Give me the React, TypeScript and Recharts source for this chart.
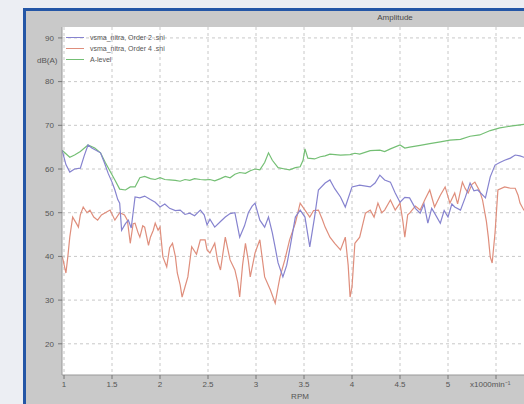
import React from 'react';
import { LineChart, Line, XAxis, YAxis, CartesianGrid, Legend } from 'recharts';

// RPM (x1000 min^-1) and level (dB(A))
const greenRpm = [0.98, 1.02, 1.06, 1.11, 1.17, 1.25, 1.32, 1.38, 1.43, 1.48, 1.53, 1.58, 1.64, 1.69, 1.74, 1.79, 1.84, 1.9, 1.95, 2.0, 2.05, 2.1, 2.16, 2.21, 2.26, 2.31, 2.36, 2.42, 2.47, 2.52, 2.57, 2.63, 2.68, 2.73, 2.78, 2.83, 2.89, 2.94, 2.99, 3.04, 3.09, 3.13, 3.17, 3.23, 3.3, 3.35, 3.41, 3.46, 3.49, 3.51, 3.54, 3.61, 3.67, 3.72, 3.77, 3.88, 3.98, 4.03, 4.08, 4.19, 4.29, 4.34, 4.4, 4.5, 4.55, 4.6, 4.71, 4.81, 4.92, 5.02, 5.13, 5.23, 5.33, 5.44, 5.54, 5.65, 5.79, 5.85];
const greenDb = [64.3, 63.5, 62.7, 63.2, 64.0, 65.5, 64.8, 63.7, 61.5, 59.5, 57.5, 55.4, 55.2, 55.9, 55.9, 58.0, 58.3, 57.8, 57.6, 58.0, 57.6, 57.5, 57.4, 57.2, 57.6, 57.4, 57.8, 57.6, 57.5, 57.6, 57.3, 57.8, 58.3, 58.0, 58.8, 59.2, 59.0, 59.6, 60.0, 59.8, 61.5, 63.7, 62.0, 60.3, 60.0, 59.8, 60.3, 60.5, 62.0, 64.6, 62.5, 62.3, 62.8, 63.0, 63.4, 63.2, 63.3, 63.6, 63.4, 64.2, 64.3, 64.0, 64.6, 65.5, 64.8, 65.0, 65.4, 65.8, 66.2, 66.6, 66.8, 67.5, 67.8, 68.8, 69.4, 69.8, 70.2, 70.4];

const blueRpm = [0.98, 1.02, 1.06, 1.11, 1.17, 1.21, 1.25, 1.29, 1.38, 1.42, 1.46, 1.5, 1.53, 1.56, 1.58, 1.6, 1.64, 1.67, 1.7, 1.74, 1.79, 1.84, 1.9, 1.95, 2.0, 2.05, 2.1, 2.16, 2.21, 2.26, 2.31, 2.36, 2.42, 2.46, 2.49, 2.52, 2.57, 2.63, 2.68, 2.73, 2.78, 2.83, 2.88, 2.92, 2.96, 2.99, 3.04, 3.09, 3.13, 3.17, 3.2, 3.23, 3.28, 3.32, 3.35, 3.41, 3.46, 3.51, 3.56, 3.61, 3.65, 3.72, 3.77, 3.82, 3.88, 3.93, 4.0, 4.08, 4.19, 4.24, 4.29, 4.34, 4.4, 4.45, 4.5, 4.55, 4.6, 4.66, 4.71, 4.75, 4.79, 4.83, 4.86, 4.92, 4.96, 5.0, 5.04, 5.07, 5.13, 5.18, 5.23, 5.27, 5.31, 5.39, 5.44, 5.49, 5.54, 5.59, 5.65, 5.7, 5.75, 5.79, 5.85];
const blueDb = [64.3, 61.0, 59.3, 60.0, 60.2, 63.0, 65.5, 64.8, 63.7, 61.5, 59.0, 57.0, 55.2, 53.0, 52.2, 46.0, 47.5, 48.3, 46.5, 53.6, 53.4, 53.8, 53.0, 52.4, 51.3, 52.0, 51.0, 50.5, 50.6, 49.6, 49.9, 49.3, 50.6, 49.5, 47.2, 48.5, 46.7, 48.0, 49.0, 49.8, 50.0, 44.4, 47.0, 50.0, 51.5, 52.2, 48.3, 46.7, 49.0, 45.4, 42.0, 38.5, 35.3, 38.0, 41.5, 49.0, 50.6, 49.0, 42.2, 49.0, 55.2, 56.8, 57.5, 55.5, 53.6, 51.3, 55.9, 56.3, 55.9, 56.8, 58.6, 57.5, 57.0, 54.5, 52.4, 53.5, 53.4, 51.0, 49.9, 52.0, 47.6, 51.0, 49.9, 47.6, 50.5, 49.0, 52.0, 51.3, 50.6, 53.5, 56.8, 55.0, 55.2, 53.4, 58.2, 60.9, 61.5, 62.0, 62.5, 63.2, 63.0, 62.7, 62.5];

const redRpm = [0.98, 0.99, 1.02, 1.04, 1.06, 1.09, 1.13, 1.15, 1.17, 1.2, 1.24, 1.27, 1.31, 1.35, 1.39, 1.43, 1.48, 1.53, 1.58, 1.63, 1.66, 1.69, 1.72, 1.74, 1.77, 1.79, 1.82, 1.84, 1.88, 1.9, 1.93, 1.95, 1.98, 2.0, 2.03, 2.07, 2.1, 2.13, 2.16, 2.18, 2.21, 2.23, 2.26, 2.29, 2.33, 2.38, 2.42, 2.47, 2.49, 2.52, 2.57, 2.6, 2.63, 2.68, 2.73, 2.78, 2.81, 2.83, 2.86, 2.89, 2.92, 2.94, 2.99, 3.04, 3.09, 3.15, 3.2, 3.23, 3.25, 3.3, 3.35, 3.41, 3.46, 3.51, 3.56, 3.6, 3.65, 3.69, 3.72, 3.77, 3.82, 3.88, 3.93, 3.96, 3.98, 4.0, 4.03, 4.08, 4.14, 4.19, 4.23, 4.27, 4.31, 4.34, 4.4, 4.45, 4.5, 4.53, 4.55, 4.58, 4.6, 4.66, 4.71, 4.76, 4.81, 4.86, 4.92, 4.97, 5.02, 5.07, 5.1, 5.15, 5.18, 5.21, 5.25, 5.28, 5.33, 5.36, 5.4, 5.42, 5.44, 5.46, 5.49, 5.52, 5.59, 5.65, 5.7, 5.73, 5.75, 5.79, 5.85];
const redDb = [40.0, 39.2, 36.2, 40.0, 44.4, 49.0, 47.5, 46.7, 49.5, 51.3, 50.0, 50.6, 49.0, 48.3, 49.5, 50.0, 50.6, 48.3, 50.0, 49.5, 48.3, 43.0, 47.5, 47.6, 45.5, 44.4, 47.0, 46.7, 42.5, 44.4, 46.0, 47.6, 46.0, 46.7, 39.9, 37.6, 42.0, 43.0, 40.0, 36.2, 33.5, 30.7, 33.0, 35.3, 42.2, 40.5, 43.8, 43.8, 41.5, 40.8, 43.0, 39.0, 36.9, 44.4, 39.2, 36.9, 34.0, 30.7, 38.0, 43.0, 39.0, 35.3, 40.8, 43.8, 35.3, 32.3, 29.3, 33.0, 35.3, 39.2, 43.8, 47.6, 52.2, 50.6, 49.0, 50.5, 50.6, 48.5, 46.7, 44.4, 43.0, 41.5, 44.4, 38.0, 30.7, 33.0, 43.0, 44.4, 49.9, 50.6, 49.0, 52.2, 50.0, 50.6, 52.9, 50.6, 52.2, 48.0, 44.4, 49.5, 49.9, 51.5, 50.6, 53.0, 55.2, 51.3, 54.0, 55.9, 52.2, 54.5, 52.0, 57.0, 55.5, 54.5, 56.5, 57.0, 55.0, 52.9, 48.0, 44.4, 39.9, 38.5, 45.4, 55.2, 55.9, 55.6, 55.6, 54.0, 52.2, 50.6, 50.0];

const seriesNames = ['vsma_nitra, Order 2 .sni', 'vsma_nitra, Order 4 .sni', 'A-level'];
const seriesColors = ['#8683cf', '#df8e7c', '#74bf74'];

const xTicks = [1, 1.5, 2, 2.5, 3, 3.5, 4, 4.5, 5, 5.5];
const xLabels = ['1', '1.5', '2', '2.5', '3', '3.5', '4', '4.5', '5', 'x1000min⁻¹'];
const yTicks = [20, 30, 40, 50, 60, 70, 80, 90];

const xMinor = Array.from({ length: 100 }, (_, i) => +(1 + i * 0.05).toFixed(2));
const yMinor = Array.from({ length: 80 }, (_, i) => 13 + i);

const toRows = (rpm: number[], db: number[]) => rpm.map((r, i) => ({ rpm: r, db: db[i] }));
const blueData = toRows(blueRpm, blueDb);
const redData = toRows(redRpm, redDb);
const greenData = toRows(greenRpm, greenDb);

const FONT = '"Liberation Sans", Arial, sans-serif';

const XTick = (props: any) => {
  const { x, y, payload } = props;
  const idx = xTicks.indexOf(payload.value);
  const last = idx === xTicks.length - 1;
  return (
    <text x={last ? x - 26 : x} y={y} dy="0.71em" textAnchor={last ? 'start' : 'middle'}
      fontSize={8} fill="#555" fontFamily={FONT}>
      {xLabels[idx]}
    </text>
  );
};

const NoLabel = () => <g />;

const LegendBox = () => (
  <div style={{ fontFamily: FONT, fontSize: 7, color: '#555', lineHeight: '11px' }}>
    {seriesNames.map((n, i) => (
      <div key={n} style={{ display: 'flex', alignItems: 'center' }}>
        <span style={{ display: 'inline-block', width: 18, height: 1, background: seriesColors[i], marginRight: 6 }} />
        {n}
      </div>
    ))}
  </div>
);

export default function App() {
  return (
    <div style={{ position: 'fixed', left: 0, top: 0, width: 524, height: 404, overflow: 'hidden', background: '#eceef3', fontFamily: FONT }}>
      <div style={{ position: 'absolute', left: 23, top: 8, width: 620, height: 500, background: '#c9c9c9', borderLeft: '3px solid #2456a6', borderTop: '3px solid #2456a6' }} />
      <div style={{ position: 'absolute', left: 355, top: 13, width: 80, textAlign: 'center', fontSize: 8, color: '#4a4a4a' }}>Amplitude</div>
      <div style={{ position: 'absolute', left: 37, top: 56, fontSize: 8, color: '#555' }}>dB(A)</div>
      <div style={{ position: 'absolute', left: 280, top: 392, width: 40, textAlign: 'center', fontSize: 8, color: '#555' }}>RPM</div>
      <div style={{ position: 'absolute', left: 0, top: 0 }}>
        <LineChart width={560} height={404} margin={{ top: 27, right: 16, bottom: 0, left: 0 }}>
          <CartesianGrid fill="#ffffff" stroke="#c8c8c8" strokeDasharray="3 3" xAxisId="main" yAxisId="main"
            horizontalValues={yTicks} verticalValues={xTicks} />
          <XAxis xAxisId="minorX" type="number" dataKey="rpm" domain={[0.979, 6.0]} allowDataOverflow
            ticks={xMinor} tick={<NoLabel />} tickSize={2} axisLine={false} tickLine={{ stroke: '#888' }} height={0} />
          <XAxis xAxisId="main" type="number" dataKey="rpm" domain={[0.979, 6.0]} allowDataOverflow
            ticks={xTicks} tick={<XTick />} tickSize={4} tickMargin={2} height={29}
            axisLine={{ stroke: '#999' }} tickLine={{ stroke: '#777' }} />
          <YAxis yAxisId="minorY" type="number" domain={[12.86, 92.5]} allowDataOverflow
            ticks={yMinor} tick={<NoLabel />} tickSize={2} axisLine={false} tickLine={{ stroke: '#888' }} width={0} />
          <YAxis yAxisId="main" type="number" domain={[12.86, 92.5]} allowDataOverflow
            ticks={yTicks} width={62} tickSize={4} tickMargin={4}
            tick={{ fontSize: 8, fill: '#555', fontFamily: FONT }}
            axisLine={{ stroke: '#999' }} tickLine={{ stroke: '#777' }} />
          <Legend layout="vertical" align="center" verticalAlign="middle" content={<LegendBox />}
            wrapperStyle={{ left: 66, top: 32, width: 200, height: 36 }} />
          <Line xAxisId="main" yAxisId="main" data={greenData} dataKey="db" name={seriesNames[2]} type="linear"
            stroke={seriesColors[2]} strokeWidth={1.2} dot={false} isAnimationActive={false} />
          <Line xAxisId="main" yAxisId="main" data={redData} dataKey="db" name={seriesNames[1]} type="linear"
            stroke={seriesColors[1]} strokeWidth={1.2} dot={false} isAnimationActive={false} />
          <Line xAxisId="main" yAxisId="main" data={blueData} dataKey="db" name={seriesNames[0]} type="linear"
            stroke={seriesColors[0]} strokeWidth={1.2} dot={false} isAnimationActive={false} />
        </LineChart>
      </div>
    </div>
  );
}
